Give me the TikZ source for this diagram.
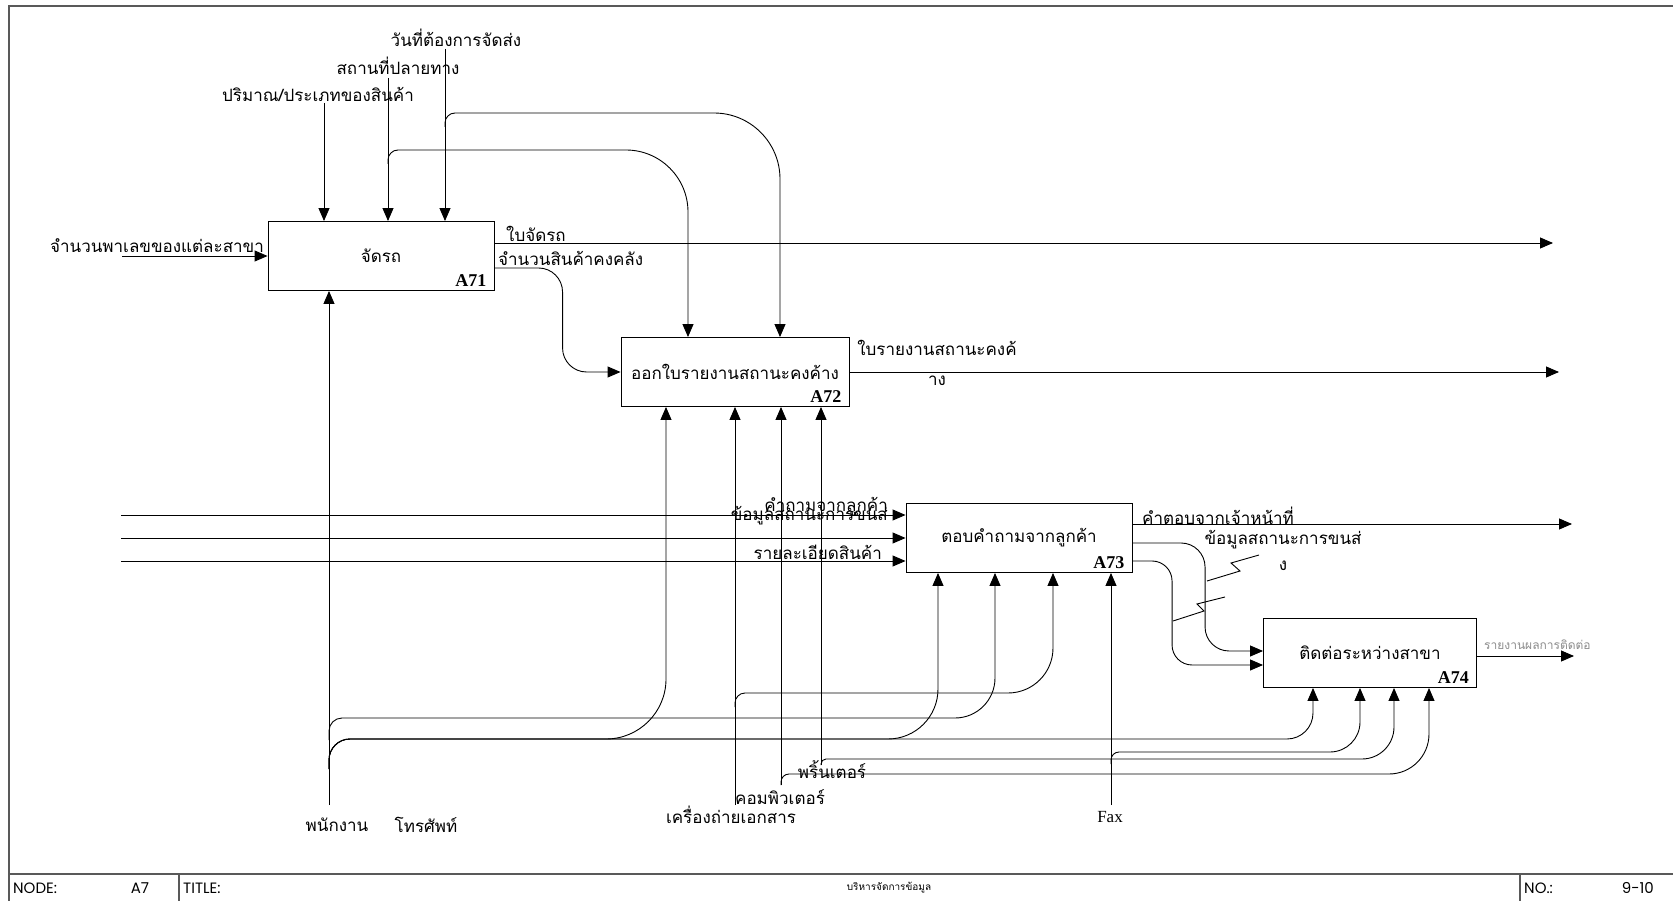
\documentclass[tikz,border=0pt]{standalone}
\usepackage{fontspec}
\newfontfamily\thaifont[Script=Thai]{Loma}
\newfontfamily\serifnum{Liberation Serif}
\newfontfamily\gothic{Poppins}
\usetikzlibrary{arrows.meta, positioning, calc}

\begin{document}
\begin{tikzpicture}[
  x=1pt, y=-1pt,
  actbox/.style = {draw, line width=0.9pt, minimum width=226pt, minimum height=69pt,
                  inner sep=0pt, font=\thaifont\fontsize{17}{20}\selectfont},
  lbl/.style    = {inner sep=0pt, font=\thaifont\fontsize{17}{20}\selectfont},
  boxid/.style  = {inner sep=0pt, anchor=south east, font=\serifnum\bfseries\fontsize{18}{20}\selectfont},
  arr/.style    = {-{Triangle[length=13pt,width=11pt]}, line width=0.9pt},
  ln/.style     = {line width=0.9pt},
  frameln/.style= {line width=1.6pt, color=black!65},
  foot/.style   = {inner sep=0pt, anchor=west, font=\gothic\fontsize{15}{18}\selectfont},
]
\useasboundingbox (0,0) rectangle (1673,901);

%% sheet frame
\draw[frameln] (9,901) -- (9,6) -- (1673,6);
\draw[frameln] (9,874) -- (1673,874);
\draw[frameln] (179,874) -- (179,901);
\draw[frameln] (1520,874) -- (1520,901);

%% activities
\node[actbox] (a71) at (381,256) {จัดรถ};
\node[actbox, minimum width=228pt] (a72) at (735,372) {ออกใบรายงานสถานะคงค้าง};
\node[actbox] (a73) at (1019,538) {ตอบคำถามจากลูกค้า};
\node[actbox, minimum width=213pt] (a74) at (1370,653) {ติดต่อระหว่างสาขา};

\node[boxid] (id71) at ([xshift=-8pt,yshift=4pt]a71.south east) {A71};
\node[boxid] (id72) at ([xshift=-8pt,yshift=4pt]a72.south east) {A72};
\node[boxid] (id73) at ([xshift=-8pt,yshift=4pt]a73.south east) {A73};
\node[boxid] (id74) at ([xshift=-8pt,yshift=4pt]a74.south east) {A74};

%% ports
\coordinate (a72n1) at ([xshift=-47pt]a72.north);
\coordinate (a72n2) at ([xshift=45pt]a72.north);
\foreach \i/\dx in {1/-69, 2/-1, 3/46, 4/86}
  \coordinate (a72s\i) at ([xshift=\dx pt]a72.south);
\foreach \i/\dx in {1/-81, 2/-24, 3/34, 4/92}
  \coordinate (a73s\i) at ([xshift=\dx pt]a73.south);
\foreach \i/\dx in {1/-57, 2/-10, 3/24, 4/59}
  \coordinate (a74s\i) at ([xshift=\dx pt]a74.south);

%% controls
\node[lbl] (lqty)  at (318,94) {ปริมาณ/ประเภทของสินค้า};
\node[lbl] (ldest) at (398,66) {สถานที่ปลายทาง};
\node[lbl] (ldate) at (456,38) {วันที่ต้องการจัดส่ง};
\coordinate (cqty)  at (324,103);
\coordinate (cdest) at (388,78);
\coordinate (cdate) at (445,49);
\foreach \c in {cqty, cdest, cdate}
  \draw[arr] (\c) -- (\c |- a71.north);

\coordinate (jdest) at (388,150);
\coordinate (jdate) at (445,113);
\draw[arr] ([yshift=-14pt]jdest) [rounded corners=10pt] -- (jdest)
  [rounded corners=62pt] -- (a72n1 |- jdest) -- (a72n1);
\draw[arr] ([yshift=-14pt]jdate) [rounded corners=10pt] -- (jdate)
  [rounded corners=66pt] -- (a72n2 |- jdate) -- (a72n2);

%% inputs
\node[lbl, anchor=east] (lpal) at (264,246) {จำนวนพาเลขของแต่ละสาขา};
\coordinate (ipal) at (122,256);
\draw[arr] (ipal) -- (a71.west);

\node[lbl, anchor=east] (lask)  at (888,507) {คำถามจากลูกค้า};
\node[lbl, anchor=east] (ltrk)  at (888,516) {ข้อมูลสถานะการขนส่};
\node[lbl, anchor=east] (lprod) at (882,552) {รายละเอียดสินค้า};
\coordinate (iask)  at (121,515);
\coordinate (itrk)  at (121,538);
\coordinate (iprod) at (121,561);
\foreach \c in {iask, itrk, iprod}
  \draw[arr] (\c) -- (\c -| a73.west);

%% outputs
\node[lbl, anchor=west] (lslip)  at (506,234) {ใบจัดรถ};
\node[lbl, anchor=west] (lstock) at (498,258) {จำนวนสินค้าคงคลัง};
\coordinate (e71) at (1553,243);
\draw[arr] (a71.east |- e71) -- (e71);
\draw[arr, rounded corners=24pt] ([yshift=-12pt]a71.east) -| ([xshift=-58pt]a72.west) -- (a72.west);

\node[lbl, align=center, font=\thaifont\fontsize{17}{30}\selectfont] (lrep) at (937,363)
  {ใบรายงานสถานะคงค้\\าง};
\coordinate (e72) at (1559,372);
\draw[arr] (a72.east) -- (e72);

\node[lbl, anchor=west] (lans) at (1142,516) {คำตอบจากเจ้าหน้าที่};
\coordinate (e73) at (1572,524);
\draw[arr] (a73.east |- e73) -- (e73);

\node[lbl, align=center, font=\thaifont\fontsize{17}{26}\selectfont] (linfo) at (1283,550)
  {ข้อมูลสถานะการขนส่\\ง};
\draw[arr, rounded corners=24pt] ([yshift=-5pt]a73.east) -| ([xshift=-58pt,yshift=2pt]a74.west)
  -- ([yshift=2pt]a74.west);
\draw[arr, rounded corners=20pt] ([yshift=-23pt]a73.east) -| ([xshift=-91pt,yshift=-12pt]a74.west)
  -- ([yshift=-12pt]a74.west);
\draw[ln] (1259,555) -- (1231,563) -- (1240,571) -- (1207,581);
\draw[ln] (1225,597) -- (1197,604) -- (1204,611) -- (1173,621);

\node[lbl, anchor=west, text=black!45, font=\thaifont\fontsize{12}{14}\selectfont] (lres) at (1484,645)
  {รายงานผลการติดต่อ};
\coordinate (e74) at (1574,656);
\draw[arr] ([yshift=-3pt]a74.east) -- (e74);

%% mechanisms
\node[lbl] (lstaff) at (337,825) {พนักงาน};
\node[lbl] (lphone) at (426,825) {โทรศัพท์};
\node[lbl] (lcopy)  at (731,815) {เครื่องถ่ายเอกสาร};
\node[lbl] (lcomp)  at (780,797) {คอมพิวเตอร์};
\node[lbl] (lprint) at (832,770) {พริ้นเตอร์};
\node[lbl, font=\serifnum\fontsize{17}{20}\selectfont] (lfax) at (1110,817) {Fax};

\coordinate (mstaff) at (329,805);
\coordinate (mcopy)  at (735,805);
\coordinate (mcomp)  at (781,785);
\coordinate (mprint) at (821,765);
\coordinate (mfax)   at (1111,805);
\draw[arr] (mstaff) -- (mstaff |- a71.south);
\foreach \c in {mcopy, mcomp, mprint}
  \draw[arr] (\c) -- (\c |- a72.south);
\draw[arr] (mfax) -- (mfax |- a73.south);

\coordinate (jstaff1) at (329,718);
\coordinate (jstaff2) at (329,739);
\coordinate (jcopy)   at (735,693);
\coordinate (jcomp)   at (781,774);
\coordinate (jprint)  at (821,759);
\coordinate (jfax)    at (1111,752);

\draw[arr] ([yshift=-22pt]jstaff1) [rounded corners=13pt] -- (jstaff1)
  [rounded corners=40pt] -- (a73s2 |- jstaff1) -- (a73s2);
\draw[arr] ([yshift=-30pt]jstaff2) [rounded corners=21pt] -- (jstaff2)
  [rounded corners=60pt] -- (a72s1 |- jstaff2) -- (a72s1);
\draw[arr] ([yshift=-30pt]jstaff2) [rounded corners=21pt] -- (jstaff2)
  [rounded corners=50pt] -- (a73s1 |- jstaff2) -- (a73s1);
\draw[arr] ([yshift=-30pt]jstaff2) [rounded corners=21pt] -- (jstaff2)
  [rounded corners=26pt] -- (a74s1 |- jstaff2) -- (a74s1);
\draw[arr] ([yshift=-14pt]jcopy) [rounded corners=10pt] -- (jcopy)
  [rounded corners=45pt] -- (a73s3 |- jcopy) -- (a73s3);
\draw[arr] (mcomp) [rounded corners=8pt] -- (jcomp)
  [rounded corners=40pt] -- (a74s4 |- jcomp) -- (a74s4);
\draw[arr] (mprint) [rounded corners=5pt] -- (jprint)
  [rounded corners=32pt] -- (a74s3 |- jprint) -- (a74s3);
\draw[arr] ([yshift=-12pt]jfax) [rounded corners=8pt] -- (jfax)
  [rounded corners=30pt] -- (a74s2 |- jfax) -- (a74s2);

%% footer
\node[foot] (fnode) at (13,888) {NODE:};
\node[foot, anchor=center] (fnodeval) at (140,888) {A7};
\node[foot] (ftitle) at (183,888) {TITLE:};
\node[lbl, font=\thaifont\fontsize{10}{12}\selectfont] (ftitleval) at (889,888) {บริหารจัดการข้อมูล};
\node[foot] (fno) at (1524,888) {NO.:};
\node[foot, anchor=east] (fnoval) at (1654,888) {9-10};

\end{tikzpicture}
\end{document}
